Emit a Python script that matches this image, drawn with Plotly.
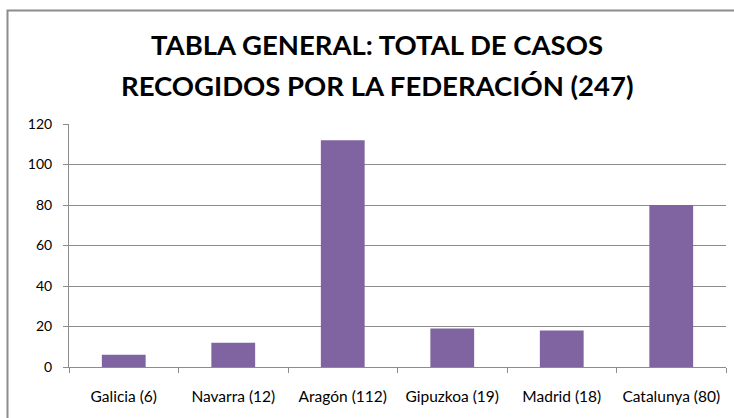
import plotly.graph_objects as go

categories = ["Galicia (6)", "Navarra (12)", "Aragón (112)", "Gipuzkoa (19)", "Madrid (18)", "Catalunya (80)"]
values = [6, 12, 112, 19, 18, 80]
y_ticks = [0, 20, 40, 60, 80, 100, 120]
title_lines = ["TABLA GENERAL: TOTAL DE CASOS", "RECOGIDOS POR LA FEDERACIÓN (247)"]

W, H = 734, 418
L, R, T, B = 69, 8, 124, 51
pw, ph = W - L - R, H - T - B

def px_x(x):
    return (x - L) / pw

def px_y(y):
    return (H - B - y) / ph

FONT = "Lato, 'Open Sans', sans-serif"

fig = go.Figure(go.Bar(x=categories, y=values, marker=dict(color="#8064A2", line=dict(width=0)), width=0.4))

annotations = []
for line, yc in zip(title_lines, [44.5, 85.5]):
    annotations.append(dict(
        text="<b>" + line + "</b>", xref="paper", yref="paper",
        x=px_x(377), y=px_y(yc), xanchor="center", yanchor="middle",
        showarrow=False, font=dict(size=27.5, family=FONT, color="#000000"),
    ))

fig.update_layout(
    width=W, height=H,
    margin=dict(l=L, r=R, t=T, b=B),
    paper_bgcolor="white", plot_bgcolor="white",
    font=dict(family=FONT, color="#000000", size=13),
    annotations=annotations,
    xaxis=dict(
        type="category", tickson="boundaries", ticks="outside", ticklen=5,
        tickcolor="#8c8c8c", showline=True, linecolor="#8c8c8c", linewidth=1,
        showgrid=False, tickfont=dict(size=15.5), ticklabelstandoff=15,
    ),
    yaxis=dict(
        range=[0, 120], tickvals=y_ticks, ticks="outside", ticklen=5,
        tickcolor="#8c8c8c", showline=True, linecolor="#8c8c8c", linewidth=1,
        showgrid=True, gridcolor="#8c8c8c", gridwidth=1, zeroline=False,
        tickfont=dict(size=14), ticklabelstandoff=8,
    ),
    bargap=0.6,
    showlegend=False,
    shapes=[dict(
        type="rect", xref="paper", yref="paper",
        x0=px_x(7.5), x1=px_x(760), y0=px_y(10.5), y1=px_y(440),
        line=dict(color="#8c8c8c", width=2), fillcolor="rgba(0,0,0,0)", layer="above",
    )],
)

fig.write_html("out.html", config={"displayModeBar": False},
               post_script="document.body.style.margin='0';document.body.style.overflow='hidden';")
